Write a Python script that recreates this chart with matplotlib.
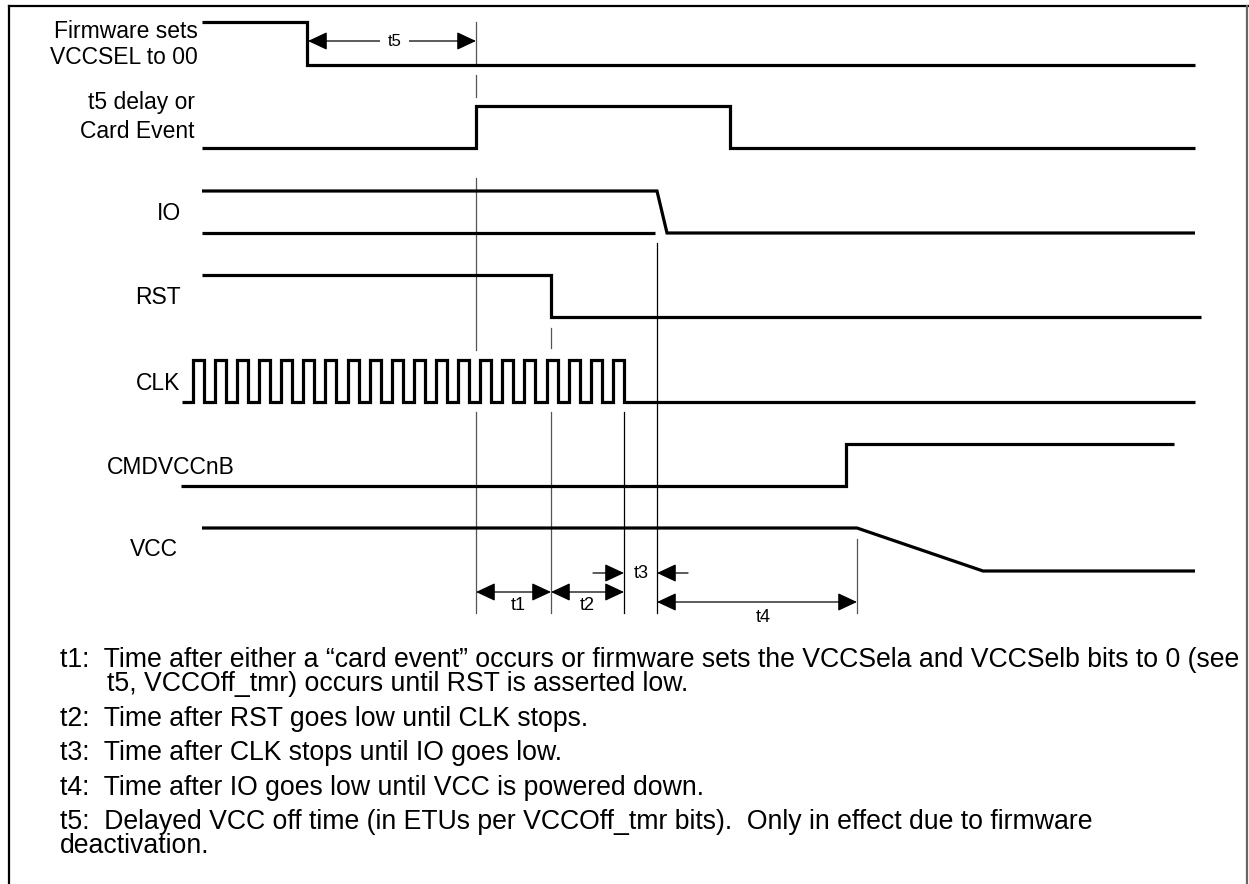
import matplotlib
matplotlib.use("Agg")
import matplotlib.pyplot as plt

plt.rcParams['font.family'] = ['Liberation Sans', 'DejaVu Sans']

# ---------------- data (time axis in diagram units, levels 1=high 0=low) ----
row_names = ["Firmware sets\nVCCSEL to 00", "t5 delay or\nCard Event", "IO", "RST",
             "CLK", "CMDVCCnB", "VCC"]

fw_t = [202, 307, 307, 1195]
fw_v = [1, 1, 0, 0]

card_t = [202, 476, 476, 730, 730, 1195]
card_v = [0, 0, 1, 1, 0, 0]

io_t = [202, 657, 667, 1195]
io_v = [1, 1, 0, 0]
io_low_t = [202, 655]
io_low_v = [0, 0]

rst_t = [202, 551, 551, 1201]
rst_v = [1, 1, 0, 0]

clk_start = 182
clk_rise = [193, 215, 237, 259, 281, 303, 325, 348, 370, 392,
            414, 436, 458, 480, 502, 524, 547, 569, 591, 613]
clk_fall = [204, 226, 248, 270, 292, 314, 336, 359, 381, 403,
            425, 447, 469, 491, 513, 535, 558, 580, 602, 624]
clk_end = 1195

cmd_t = [181, 846, 846, 1174]
cmd_v = [0, 0, 1, 1]

vcc_t = [202, 857, 983, 1195]
vcc_v = [1, 1, 0, 0]

# timing markers
t_event = 476
t_rst = 551
t_clkstop = 624
t_iolow = 657
t_vccoff = 857
t_fw = 307

notes = [
    "t1:  Time after either a \u201ccard event\u201d occurs or firmware sets the VCCSela and VCCSelb bits to 0 (see",
    "t5, VCCOff_tmr) occurs until RST is asserted low.",
    "t2:  Time after RST goes low until CLK stops.",
    "t3:  Time after CLK stops until IO goes low.",
    "t4:  Time after IO goes low until VCC is powered down.",
    "t5:  Delayed VCC off time (in ETUs per VCCOff_tmr bits).  Only in effect due to firmware",
    "deactivation.",
]

# ---------------- layout ----------------
W, H = 1249, 884
fig = plt.figure(figsize=(W / 100, H / 100), dpi=100)
ax = fig.add_axes([0, 0, 1, 1])
ax.set_xlim(0, W)
ax.set_ylim(H, 0)
ax.axis('off')

row_hi = [22, 106, 191, 275, 360, 444, 528]
row_lo = [65, 148, 233, 317, 402, 486, 571]

SIG_LW = 2.3
GUIDE_LW = 0.9
GUIDE_C = '#555555'


def level_y(i, v):
    return [row_lo[i] + (row_hi[i] - row_lo[i]) * s for s in v]


def sig(i, t, v):
    ax.plot(t, level_y(i, v), color='black', lw=SIG_LW, solid_joinstyle='miter',
            solid_capstyle='butt', zorder=3)


sig(0, fw_t, fw_v)
sig(1, card_t, card_v)
sig(2, io_t, io_v)
sig(2, io_low_t, io_low_v)
sig(3, rst_t, rst_v)
# clock
ct = [clk_start]
cv = [0]
for r, f in zip(clk_rise, clk_fall):
    ct += [r, r, f, f]
    cv += [0, 1, 1, 0]
ct.append(clk_end)
cv.append(0)
sig(4, ct, cv)
sig(5, cmd_t, cmd_v)
sig(6, vcc_t, vcc_v)

# labels
lab_fs = 16.5
ax.text(198, 31, "Firmware sets", ha='right', va='center', fontsize=lab_fs)
ax.text(198, 58, "VCCSEL to 00", ha='right', va='center', fontsize=lab_fs)
ax.text(195, 103, "t5 delay or", ha='right', va='center', fontsize=lab_fs)
ax.text(195, 131, "Card Event", ha='right', va='center', fontsize=lab_fs)
ax.text(181, 213, row_names[2], ha='right', va='center', fontsize=lab_fs)
ax.text(181, 297, row_names[3], ha='right', va='center', fontsize=lab_fs)
ax.text(180, 383, row_names[4], ha='right', va='center', fontsize=lab_fs)
ax.text(235, 467, row_names[5], ha='right', va='center', fontsize=lab_fs)
ax.text(178, 550, row_names[6], ha='right', va='center', fontsize=lab_fs)

# guide lines
def vguide(x, y0, y1, c=GUIDE_C):
    ax.plot([x, x], [y0, y1], color=c, lw=GUIDE_LW, zorder=2)


vguide(t_event, 22, 65)
vguide(t_event, 75, 97)
vguide(t_event, 178, 350)
vguide(t_event, 412, 613)
vguide(t_rst, 328, 348)
vguide(t_rst, 412, 613)
vguide(t_clkstop, 412, 613, 'black')
vguide(t_iolow, 243, 613, 'black')
vguide(t_vccoff, 539, 613)

# arrows
ap2 = dict(arrowstyle='<|-|>,head_length=0.6,head_width=0.28', color='black', lw=0.9,
           mutation_scale=20, shrinkA=0, shrinkB=0)
ap1 = dict(arrowstyle='-|>,head_length=0.6,head_width=0.28', color='black', lw=0.9,
           mutation_scale=20, shrinkA=0, shrinkB=0)
t_fs = 13

# t5
ax.annotate('', xy=(t_event, 41), xytext=(t_fw + 1, 41), arrowprops=ap2)
ax.text((t_fw + t_event) / 2 + 3, 41, 't5', ha='center', va='center', fontsize=12,
        bbox=dict(boxstyle='square,pad=0.45', fc='white', ec='none'), zorder=4)
# t1, t2
ax.annotate('', xy=(t_rst, 592), xytext=(t_event, 592), arrowprops=ap2)
ax.text((t_event + t_rst) / 2 + 5, 606, 't1', ha='center', va='center', fontsize=t_fs)
ax.annotate('', xy=(t_clkstop, 592), xytext=(t_rst, 592), arrowprops=ap2)
ax.text((t_rst + t_clkstop) / 2, 606, 't2', ha='center', va='center', fontsize=t_fs)
# t3
ax.annotate('', xy=(t_clkstop, 573), xytext=(593, 573), arrowprops=ap1)
ax.annotate('', xy=(t_iolow, 573), xytext=(688, 573), arrowprops=ap1)
ax.text((t_clkstop + t_iolow) / 2 + 1, 573, 't3', ha='center', va='center', fontsize=t_fs)
# t4
ax.annotate('', xy=(t_vccoff, 602), xytext=(t_iolow, 602), arrowprops=ap2)
ax.text(763, 617, 't4', ha='center', va='center', fontsize=t_fs)

# notes
note_fs = 19.2
note_x = [60, 107, 60, 60, 60, 60, 60]
note_y = [660, 684, 719, 753, 788, 822, 846]
for s, x, y in zip(notes, note_x, note_y):
    ax.text(x, y, s, ha='left', va='center', fontsize=note_fs)

# frame
ax.plot([9, 1248], [6, 6], color='black', lw=1.6, zorder=5)
ax.plot([9, 9], [6, H], color='black', lw=1.6, zorder=5)
ax.plot([1247.5, 1247.5], [6, H], color='#666666', lw=1.6, zorder=5)

fig.savefig('out.png', dpi=100)
